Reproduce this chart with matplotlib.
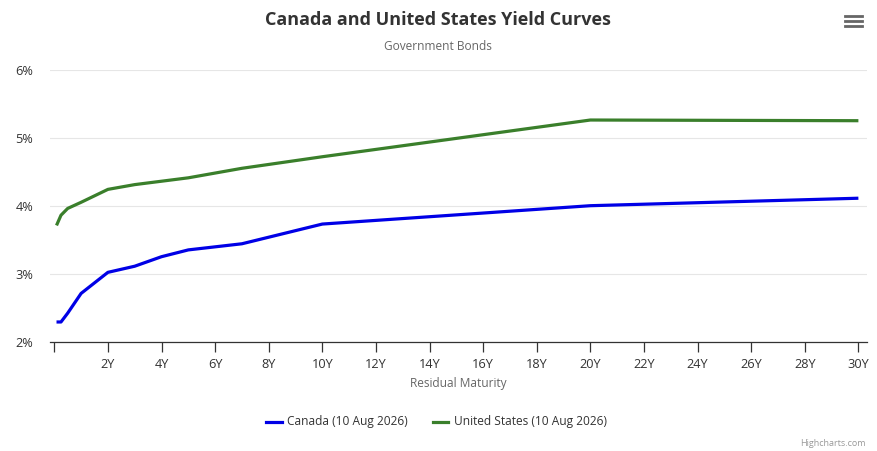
import matplotlib
matplotlib.use('Agg')
import matplotlib.pyplot as plt
import matplotlib.ticker as mticker
from matplotlib.lines import Line2D

W, H = 878, 451

# maturities in years, yields in %
canada_maturity = [0.083, 0.25, 0.5, 1, 2, 3, 4, 5, 7, 10, 20, 30]
canada_yield = [2.29, 2.29, 2.42, 2.71, 3.02, 3.11, 3.25, 3.35, 3.44, 3.73, 4.00, 4.11]

us_maturity = [0.083, 0.25, 0.5, 1, 2, 3, 4, 5, 7, 10, 20, 30]
us_yield = [3.71, 3.86, 3.96, 4.05, 4.24, 4.31, 4.36, 4.41, 4.55, 4.72, 5.26, 5.25]

x_ticks = list(range(0, 31, 2))
x_tick_labels = [''] + [f'{t}Y' for t in x_ticks[1:]]
y_ticks = [2, 3, 4, 5, 6]

BLUE = '#0000e6'
GREEN = '#3a7f2b'
plt.rcParams['font.family'] = ['Open Sans', 'DejaVu Sans']

fig = plt.figure(figsize=(W / 100, H / 100), dpi=100)
ax = fig.add_axes([50 / W, 1 - 341.7 / H, (866.7 - 50) / W, (341.7 - 69.7) / H])

ax.plot(canada_maturity, canada_yield, color=BLUE, lw=2.3, solid_joinstyle='round',
        solid_capstyle='butt', zorder=3)
ax.plot(us_maturity, us_yield, color=GREEN, lw=2.3, solid_joinstyle='round',
        solid_capstyle='butt', zorder=3)

ax.set_xlim(-0.16, 30.31)
ax.set_ylim(2, 6)
ax.set_xticks(x_ticks)
ax.set_xticklabels(x_tick_labels)
ax.set_yticks(y_ticks)
ax.yaxis.set_major_formatter(mticker.FuncFormatter(lambda v, p: f'{v:.0f}%'))

ax.grid(axis='y', color='#e6e6e6', lw=0.8)
ax.set_axisbelow(True)
for s in ['top', 'right', 'left']:
    ax.spines[s].set_visible(False)
ax.spines['bottom'].set_color('#333333')
ax.spines['bottom'].set_linewidth(0.9)
ax.tick_params(axis='x', length=7, width=0.9, color='#333333', labelsize=9.2,
               labelcolor='#333333', pad=4.5, direction='out')
ax.tick_params(axis='y', length=0, labelsize=9.2, labelcolor='#333333', pad=12)

fig.text(438 / W, 1 - 20 / H, 'Canada and United States Yield Curves', ha='center',
         va='center', fontsize=13, fontweight='bold', color='#333333')
fig.text(438 / W, 1 - 47 / H, 'Government Bonds', ha='center', va='center',
         fontsize=8.6, color='#666666')
fig.text(458 / W, 1 - 384 / H, 'Residual Maturity', ha='center', va='center',
         fontsize=8.6, color='#666666')

# legend
fig.add_artist(Line2D([266 / W, 282 / W], [1 - 422 / H] * 2, color=BLUE, lw=2.3))
fig.text(287 / W, 1 - 422 / H, 'Canada (10 Aug 2026)', ha='left', va='center',
         fontsize=8.6, color='#333333')
fig.add_artist(Line2D([433 / W, 448 / W], [1 - 422 / H] * 2, color=GREEN, lw=2.3))
fig.text(454 / W, 1 - 422 / H, 'United States (10 Aug 2026)', ha='left', va='center',
         fontsize=8.6, color='#333333')

fig.text(866 / W, 1 - 443 / H, 'Highcharts.com', ha='right', va='center',
         fontsize=6.5, color='#999999')

# menu icon
for yy in [15.7, 21, 26.3]:
    fig.add_artist(Line2D([845 / W, 862 / W], [1 - yy / H] * 2, color='#666666', lw=2))

fig.savefig('out.png', dpi=100)
